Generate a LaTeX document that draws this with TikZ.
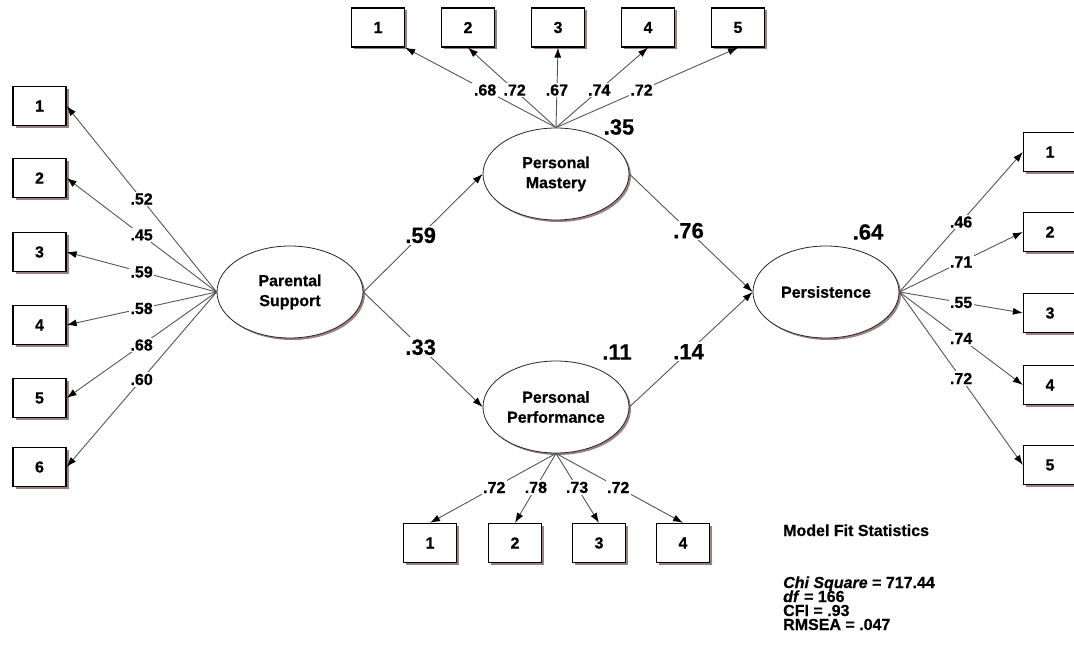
\documentclass[tikz,border=0pt]{standalone}
\usepackage{fontspec}
\setmainfont{Liberation Sans}[BoldFeatures={FakeBold=0.6},BoldItalicFeatures={FakeBold=0.6}]
\usetikzlibrary{shapes.geometric,arrows.meta,shadows}
\definecolor{shd}{HTML}{9C7F80}
\definecolor{ln}{HTML}{555555}
\begin{document}
\begin{tikzpicture}[x=1pt,y=-1pt,
  ind/.style={draw=black, line width=1.3pt, fill=white, minimum width=53pt, minimum height=39pt, inner sep=0pt,
    font=\bfseries\fontsize{16}{16}\selectfont,
    drop shadow={shadow xshift=2.5pt, shadow yshift=-2.5pt, fill=shd, opacity=1}},
  lat/.style={ellipse, draw=black!85, line width=0.8pt, fill=white, minimum width=146pt, minimum height=92pt,
    inner sep=0pt, align=center, font=\bfseries\fontsize{16}{20}\selectfont,
    drop shadow={shadow xshift=2pt, shadow yshift=-2pt, fill=shd, opacity=1}},
  arr/.style={draw=ln, line width=0.9pt, -{Latex[length=10pt,width=7pt,color=black]}},
  lab/.style={fill=white, inner sep=1.5pt, font=\bfseries\fontsize{16}{16}\selectfont},
  big/.style={fill=white, inner sep=2pt, font=\bfseries\fontsize{22}{22}\selectfont},
  fitt/.style={anchor=base west, inner sep=0pt, font=\bfseries\fontsize{16}{16}\selectfont}
]
\useasboundingbox (0,0) rectangle (1074,650);

% latent variables
\node[lat] (ps)  at (290,292) {Parental\\Support};
\node[lat] (pm)  at (556,174) {Personal\\Mastery};
\node[lat] (per) at (826,292) {Persistence};
\node[lat] (pp)  at (556,407) {Personal\\Performance};

% left indicators
\foreach \i/\y in {1/106,2/178,3/252,4/325,5/398,6/467}
  \node[ind] (L\i) at (39.5,\y) {\i};
% top indicators
\foreach \i/\x in {1/378,2/468,3/558,4/648,5/738}
  \node[ind] (T\i) at (\x,27.5) {\i};
% right indicators
\foreach \i/\y in {1/152,2/232,3/313,4/385,5/465}
  \node[ind] (R\i) at (1050,\y) {\i};
% bottom indicators
\foreach \i/\x in {1/430,2/515,3/599,4/683}
  \node[ind] (B\i) at (\x,543) {\i};

% Parental Support loadings
\draw[arr] (ps.west) -- (L1.east) node[lab,pos=.5] {.52};
\draw[arr] (ps.west) -- (L2.east) node[lab,pos=.5] {.45};
\draw[arr] (ps.west) -- (L3.east) node[lab,pos=.5] {.59};
\draw[arr] (ps.west) -- (L4.east) node[lab,pos=.5] {.58};
\draw[arr] (ps.west) -- (L5.east) node[lab,pos=.5] {.68};
\draw[arr] (ps.west) -- (L6.east) node[lab,pos=.5] {.60};

% Personal Mastery loadings
\draw[arr] (pm.north) -- (T1.south east) node[lab,pos=.47] {.68};
\draw[arr] (pm.north) -- (T2.south) node[lab,pos=.47] {.72};
\draw[arr] (pm.north) -- (T3.south) node[lab,pos=.47] {.67};
\draw[arr] (pm.north) -- (T4.south) node[lab,pos=.47] {.74};
\draw[arr] (pm.north) -- (T5.south) node[lab,pos=.47] {.72};

% Persistence loadings
\draw[arr] (per.east) -- (R1.west) node[lab,pos=.5] {.46};
\draw[arr] (per.east) -- (R2.west) node[lab,pos=.5] {.71};
\draw[arr] (per.east) -- (R3.west) node[lab,pos=.5] {.55};
\draw[arr] (per.east) -- (R4.west) node[lab,pos=.5] {.74};
\draw[arr] (per.east) -- (R5.west) node[lab,pos=.5] {.72};

% Personal Performance loadings
\draw[arr] (pp.south) -- (B1.north) node[lab,pos=.49] {.72};
\draw[arr] (pp.south) -- (B2.north) node[lab,pos=.49] {.78};
\draw[arr] (pp.south) -- (B3.north) node[lab,pos=.49] {.73};
\draw[arr] (pp.south) -- (B4.north) node[lab,pos=.49] {.72};

% structural paths
\draw[arr] (ps.east) -- (pm.west) node[big,pos=.48] {.59};
\draw[arr] (ps.east) -- (pp.west) node[big,pos=.48] {.33};
\draw[arr] (pm.east) -- (per.west) node[big,pos=.48] {.76};
\draw[arr] (pp.east) -- (per.west) node[big,pos=.48] {.14};

% R-squared
\node[big] (r2pm)  at (619,127) {.35};
\node[big] (r2per) at (868,232) {.64};
\node[big] (r2pp)  at (617,352) {.11};

% fit statistics
\node[fitt] (f1) at (783,536) {Model Fit Statistics};
\node[fitt] (f2) at (783,588) {\textit{Chi Square} = 717.44};
\node[fitt] (f3) at (783,602) {\textit{df} = 166};
\node[fitt] (f4) at (783,616) {CFI = .93};
\node[fitt] (f5) at (783,630) {RMSEA = .047};
\end{tikzpicture}
\end{document}
